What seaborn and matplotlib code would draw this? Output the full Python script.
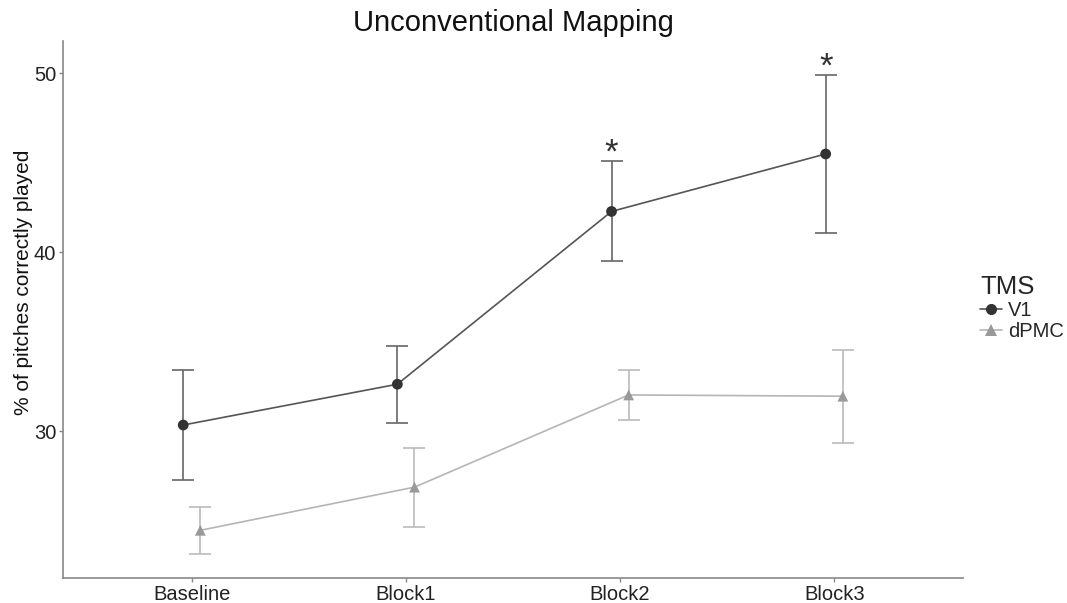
import matplotlib
matplotlib.use("Agg")
import matplotlib.pyplot as plt
from matplotlib.lines import Line2D
import numpy as np
import pandas as pd
import seaborn as sns

# Block labels and per-condition summary statistics (mean ± SE)
blocks = ["Baseline", "Block1", "Block2", "Block3"]
tms_groups = ["V1", "dPMC"]
v1_mean = [30.35, 32.63, 42.28, 45.49]
v1_se = [3.05, 2.15, 2.79, 4.41]
dpmc_mean = [24.47, 26.88, 32.03, 31.96]
dpmc_se = [1.32, 2.21, 1.41, 2.60]
signif = ["", "", "*", "*"]

sns.set_theme(style="white")
plt.rcParams["font.family"] = ["Liberation Sans", "DejaVu Sans"]

rows = []
for g, means, ses in [("V1", v1_mean, v1_se), ("dPMC", dpmc_mean, dpmc_se)]:
    for i, (b, m, s) in enumerate(zip(blocks, means, ses)):
        rows.append({"block": b, "tms": g, "pos": i, "mean": m, "se": s})
df = pd.DataFrame(rows)

# dodge the two groups slightly around each category
dodge = {"V1": -0.04, "dPMC": 0.04}
df["x"] = df["pos"] + df["tms"].map(dodge)

line_col = {"V1": "#555555", "dPMC": "#b5b5b5"}
pt_col = {"V1": "#333333", "dPMC": "#999999"}
err_col = {"V1": "#666666", "dPMC": "#bbbbbb"}
markers = {"V1": "o", "dPMC": "^"}

fig = plt.figure(figsize=(10.67, 6.03), dpi=100)
ax = fig.add_axes([0.0593, 0.041, 0.9023 - 0.0593, 0.932 - 0.041])

for g in tms_groups:
    sub = df[df["tms"] == g]
    ax.errorbar(sub["x"], sub["mean"], yerr=sub["se"], fmt="none",
                ecolor=err_col[g], elinewidth=1.2, capsize=7.8, capthick=1.2,
                zorder=1)

sns.lineplot(data=df, x="x", y="mean", hue="tms", palette=line_col,
             hue_order=tms_groups, linewidth=1.2, legend=False, ax=ax,
             zorder=2, sort=True)
sns.scatterplot(data=df, x="x", y="mean", hue="tms", style="tms",
                palette=pt_col, markers=markers, hue_order=tms_groups,
                style_order=tms_groups, s=60, linewidth=0, legend=False,
                ax=ax, zorder=3)

# significance markers above the V1 error bars
v1 = df[df["tms"] == "V1"].reset_index(drop=True)
for i, lab in enumerate(signif):
    if lab:
        top = v1.loc[i, "mean"] + v1.loc[i, "se"]
        ax.text(v1.loc[i, "x"], top + 0.45, lab, ha="center", va="center",
                fontsize=25, color="#333333")

ax.set_xlim(-0.6, 3.6)
ax.set_ylim(21.79, 51.8)
ax.set_xticks(range(len(blocks)))
ax.set_xticklabels(blocks)
ax.set_yticks([30, 40, 50])
ax.set_xlabel("")
ax.set_ylabel("% of pitches correctly played", fontsize=15, color="#111111")
ax.yaxis.set_label_coords(-0.0337, 0.55)
ax.set_title("Unconventional Mapping", fontsize=21, color="#111111", pad=7)

for side in ["top", "right"]:
    ax.spines[side].set_visible(False)
for side in ["left", "bottom"]:
    ax.spines[side].set_color("#888888")
    ax.spines[side].set_linewidth(1.2)
ax.tick_params(axis="both", length=3, width=1, color="#888888",
               labelsize=14.5, labelcolor="#222222", pad=2, left=True,
               bottom=True)

handles = [
    Line2D([], [], color=line_col[g], marker=markers[g], markersize=8,
           markerfacecolor=pt_col[g], markeredgewidth=0, linewidth=1.2)
    for g in tms_groups
]
leg = ax.legend(handles, tms_groups, title="TMS", loc="center left",
                bbox_to_anchor=(972 / 1067, 1 - 308 / 603),
                bbox_transform=fig.transFigure, frameon=False,
                fontsize=14.5, title_fontsize=18.5, handlelength=1.1,
                handletextpad=0.3, labelspacing=0.1, borderaxespad=0,
                alignment="left")

fig.savefig("out.png", dpi=100)
